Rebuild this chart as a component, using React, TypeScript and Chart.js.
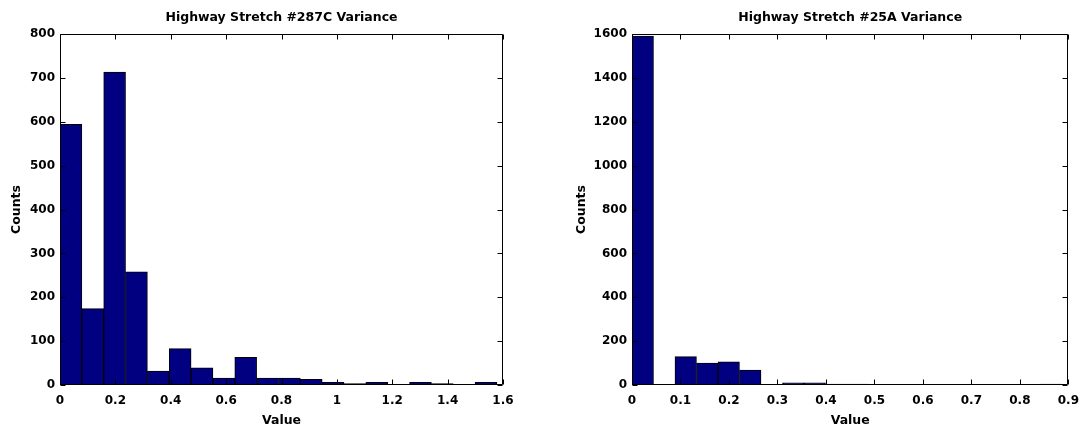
import React, { useEffect, useRef } from 'react';
import { Chart, registerables } from 'chart.js';

Chart.register(...registerables);

// ---------- data ----------
const leftTitle = 'Highway Stretch #287C Variance';
const leftBinCenters = [
  0.0395, 0.1184, 0.1973, 0.2762, 0.3551, 0.434, 0.5129, 0.5918, 0.6707, 0.7496,
  0.8285, 0.9074, 0.9863, 1.0652, 1.1441, 1.223, 1.3019, 1.3808, 1.4597, 1.5386,
];
const leftCounts = [594, 174, 713, 258, 32, 83, 39, 16, 63, 16, 16, 13, 6, 3, 6, 0, 6, 3, 0, 6];
const leftXRange = [0, 1.6];
const leftXStep = 0.2;
const leftYRange = [0, 800];
const leftYStep = 100;

const rightTitle = 'Highway Stretch #25A Variance';
const rightBinCenters = [
  0.0222, 0.0665, 0.1108, 0.1552, 0.1995, 0.2439, 0.2882, 0.3326, 0.3769, 0.4212,
  0.4656, 0.5099, 0.5543, 0.5986, 0.643, 0.6873, 0.7316, 0.776, 0.8203, 0.8647,
];
const rightCounts = [1591, 0, 129, 100, 106, 68, 0, 10, 10, 4, 4, 0, 3, 3, 0, 3, 0, 0, 0, 4];
const rightXRange = [0, 0.9];
const rightXStep = 0.1;
const rightYRange = [0, 1600];
const rightYStep = 200;

const xLabel = 'Value';
const yLabel = 'Counts';

// ---------- styling ----------
const FONT = 'DejaVu Sans';
const BAR_FILL = '#000080';
const BAR_EDGE = '#000000';

const fmt = (v: any) => String(Number(Number(v).toFixed(4)));

const framePlugin = {
  id: 'matlabFrame',
  afterDatasetsDraw(chart: any) {
    const { ctx, chartArea, scales } = chart;
    const { left, top, right, bottom } = chartArea;
    const L = Math.round(left) + 0.5;
    const R = Math.round(right) - 0.5;
    const T = Math.round(top) + 0.5;
    const B = Math.round(bottom) - 0.5;
    const tl = 5;
    ctx.save();
    ctx.strokeStyle = '#000';
    ctx.lineWidth = 1;
    ctx.beginPath();
    ctx.rect(L, T, R - L, B - T);
    const xs = scales.x;
    xs.ticks.forEach((_t: any, i: number) => {
      const px = Math.round(xs.getPixelForTick(i)) + 0.5;
      ctx.moveTo(px, B);
      ctx.lineTo(px, B - tl);
      ctx.moveTo(px, T);
      ctx.lineTo(px, T + tl);
    });
    const ys = scales.y;
    ys.ticks.forEach((_t: any, i: number) => {
      const py = Math.round(ys.getPixelForTick(i)) + 0.5;
      ctx.moveTo(L, py);
      ctx.lineTo(L + tl, py);
      ctx.moveTo(R, py);
      ctx.lineTo(R - tl, py);
    });
    ctx.stroke();
    ctx.restore();
  },
};

type HistProps = {
  title: string;
  centers: number[];
  counts: number[];
  xRange: number[];
  xStep: number;
  yRange: number[];
  yStep: number;
  yAxisWidth: number;
  padRight: number;
  countsPad: number;
};

function Histogram(p: HistProps) {
  const ref = useRef<HTMLCanvasElement | null>(null);
  useEffect(() => {
    if (!ref.current) return;
    const chart = new Chart(ref.current, {
      type: 'bar',
      data: {
        datasets: [
          {
            data: p.centers.map((c, i) => ({ x: c, y: p.counts[i] })),
            backgroundColor: BAR_FILL,
            borderColor: BAR_EDGE,
            borderWidth: 1,
            borderSkipped: false,
            barPercentage: 1,
            categoryPercentage: 1,
          },
        ],
      },
      options: {
        animation: false,
        responsive: true,
        maintainAspectRatio: false,
        layout: { padding: { left: 0, right: p.padRight, top: 0, bottom: 0 } },
        plugins: {
          legend: { display: false },
          tooltip: { enabled: false },
          title: {
            display: true,
            text: p.title,
            color: '#000',
            fullSize: false,
            font: { family: FONT, size: 12.5, weight: 'bold' },
            padding: { top: 10, bottom: 9 },
          },
        },
        scales: {
          x: {
            type: 'linear',
            offset: false,
            min: p.xRange[0],
            max: p.xRange[1],
            grid: { display: false, drawTicks: false },
            border: { display: false },
            ticks: {
              stepSize: p.xStep,
              color: '#000',
              font: { family: FONT, size: 12, weight: 'bold' },
              padding: 9,
              maxRotation: 0,
              autoSkip: false,
              callback: (v: any) => fmt(v),
            },
            title: {
              display: true,
              text: xLabel,
              color: '#000',
              font: { family: FONT, size: 12.5, weight: 'bold' },
              padding: { top: 0, bottom: 1 },
            },
            afterFit(scale: any) {
              scale.height = 44;
            },
          },
          y: {
            type: 'linear',
            min: p.yRange[0],
            max: p.yRange[1],
            grid: { display: false, drawTicks: false },
            border: { display: false },
            ticks: {
              stepSize: p.yStep,
              color: '#000',
              font: { family: FONT, size: 12, weight: 'bold' },
              padding: 5,
              autoSkip: false,
              callback: (v: any) => fmt(v),
            },
            title: {
              display: true,
              text: yLabel,
              color: '#000',
              font: { family: FONT, size: 12.5, weight: 'bold' },
              padding: { top: p.countsPad, bottom: 0 },
            },
            afterFit(scale: any) {
              scale.width = p.yAxisWidth;
            },
          },
        },
      },
      plugins: [framePlugin],
    } as any);
    return () => chart.destroy();
  }, []);
  return <canvas ref={ref} style={{ display: 'block' }} />;
}

export default function App() {
  return (
    <div
      style={{
        position: 'fixed',
        left: 0,
        top: 0,
        width: 1088,
        height: 429,
        background: '#fff',
      }}
    >
      <div style={{ position: 'absolute', left: 0, top: 0, width: 544, height: 429 }}>
        <Histogram
          title={leftTitle}
          centers={leftBinCenters}
          counts={leftCounts}
          xRange={leftXRange}
          xStep={leftXStep}
          yRange={leftYRange}
          yStep={leftYStep}
          yAxisWidth={60}
          padRight={41}
          countsPad={9}
        />
      </div>
      <div style={{ position: 'absolute', left: 544, top: 0, width: 544, height: 429 }}>
        <Histogram
          title={rightTitle}
          centers={rightBinCenters}
          counts={rightCounts}
          xRange={rightXRange}
          xStep={rightXStep}
          yRange={rightYRange}
          yStep={rightYStep}
          yAxisWidth={88}
          padRight={12}
          countsPad={30}
        />
      </div>
    </div>
  );
}
